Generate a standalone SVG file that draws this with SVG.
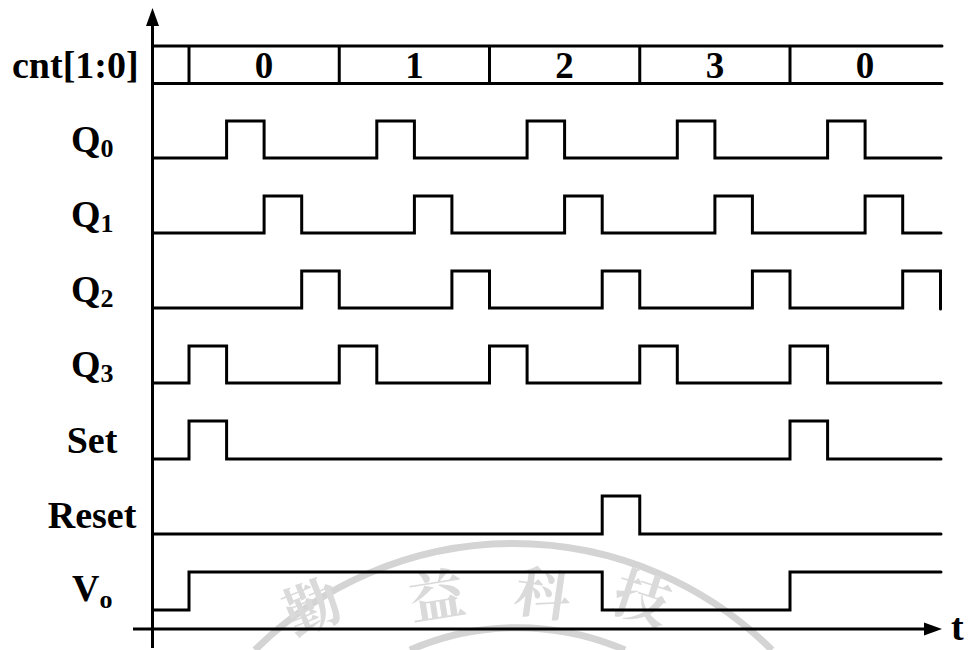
<svg xmlns="http://www.w3.org/2000/svg" width="968" height="650" viewBox="0 0 968 650">
  <style>
    .lbl { font-family: "Liberation Serif", "Times New Roman", serif; font-weight: bold; font-size: 38px; fill: #000; }
    .sub { font-size: 26px; }
    .bus { font-family: "Liberation Serif", "Times New Roman", serif; font-weight: bold; font-size: 37px; fill: #000; text-anchor: middle; }
    .sig { fill: none; stroke: #000; stroke-width: 3; stroke-linejoin: miter; stroke-linecap: round; }
    .axis { fill: none; stroke: #000; stroke-width: 3; }
    .wm { fill: none; stroke: #d4d4d4; stroke-width: 7; }
    .wmt { font-family: "Noto Serif CJK TC", "Noto Sans CJK TC", serif; font-size: 56px; font-weight: bold; fill: #dadada; text-anchor: middle; }
  </style>

  <g id="watermark">
    <path class="wm" d="M255,650 A367,367 0 0 1 772,650"/>
    <path class="wm" d="M410,650 A270,270 0 0 1 625,650"/>
    <text class="wmt" transform="translate(320,626) rotate(-22)">勤</text>
    <text class="wmt" transform="translate(440,616) rotate(-9)">益</text>
    <text class="wmt" transform="translate(540,614) rotate(8)">科</text>
    <text class="wmt" transform="translate(636,618) rotate(18)">技</text>
  </g>

  <g id="connectors">
    <line class="axis" x1="152.5" y1="648" x2="152.5" y2="20"/>
    <polygon points="152.5,8 146,26 159,26" fill="#000"/>
    <line class="axis" x1="133" y1="629" x2="928" y2="629"/>
    <polygon points="942,629 924,622.5 924,635.5" fill="#000"/>
    <text class="lbl" x="951" y="640">t</text>
  </g>

  <g id="row-cnt">
    <text class="lbl" x="12" y="78">cnt[1:0]</text>
    <path class="sig" d="M152.5,46 H942 M152.5,83.5 H942 M189,46 V83.5 M339.25,46 V83.5 M489.5,46 V83.5 M639.75,46 V83.5 M790,46 V83.5"/>
    <text class="bus" x="264" y="78">0</text>
    <text class="bus" x="414.4" y="78">1</text>
    <text class="bus" x="564.6" y="78">2</text>
    <text class="bus" x="714.9" y="78">3</text>
    <text class="bus" x="865.1" y="78">0</text>
  </g>

  <g id="row-q0">
    <text class="lbl" x="71" y="152">Q<tspan class="sub" dy="5">0</tspan></text>
    <path class="sig" d="M152.5,158 H226.6 V121 H264.1 V158 H376.8 V121 H414.4 V158 H527.1 V121 H564.6 V158 H677.3 V121 H714.9 V158 H827.6 V121 H865.1 V158 H941"/>
  </g>

  <g id="row-q1">
    <text class="lbl" x="71" y="227">Q<tspan class="sub" dy="5">1</tspan></text>
    <path class="sig" d="M152.5,233 H264.1 V196 H301.7 V233 H414.4 V196 H451.9 V233 H564.6 V196 H602.2 V233 H714.9 V196 H752.4 V233 H865.1 V196 H902.7 V233 H941"/>
  </g>

  <g id="row-q2">
    <text class="lbl" x="71" y="302">Q<tspan class="sub" dy="5">2</tspan></text>
    <path class="sig" d="M152.5,308 H301.7 V271 H339.25 V308 H451.9 V271 H489.5 V308 H602.2 V271 H639.75 V308 H752.4 V271 H790 V308 H902.7 V271 H940.5 V309"/>
  </g>

  <g id="row-q3">
    <text class="lbl" x="71" y="377">Q<tspan class="sub" dy="5">3</tspan></text>
    <path class="sig" d="M152.5,383 H189 V346 H226.6 V383 H339.25 V346 H376.8 V383 H489.5 V346 H527.1 V383 H639.75 V346 H677.3 V383 H790 V346 H827.6 V383 H941"/>
  </g>

  <g id="row-set">
    <text class="lbl" x="92" y="453" text-anchor="middle">Set</text>
    <path class="sig" d="M152.5,459 H189 V421 H226.6 V459 H790 V421 H827.6 V459 H941"/>
  </g>

  <g id="row-reset">
    <text class="lbl" x="92" y="528" text-anchor="middle">Reset</text>
    <path class="sig" d="M152.5,534 H602.2 V496 H639.75 V534 H941"/>
  </g>

  <g id="row-vo">
    <text class="lbl" x="72" y="601">V<tspan class="sub" dy="7">o</tspan></text>
    <path class="sig" d="M152.5,610 H189 V572 H602.2 V610 H790 V572 H941"/>
  </g>
</svg>
